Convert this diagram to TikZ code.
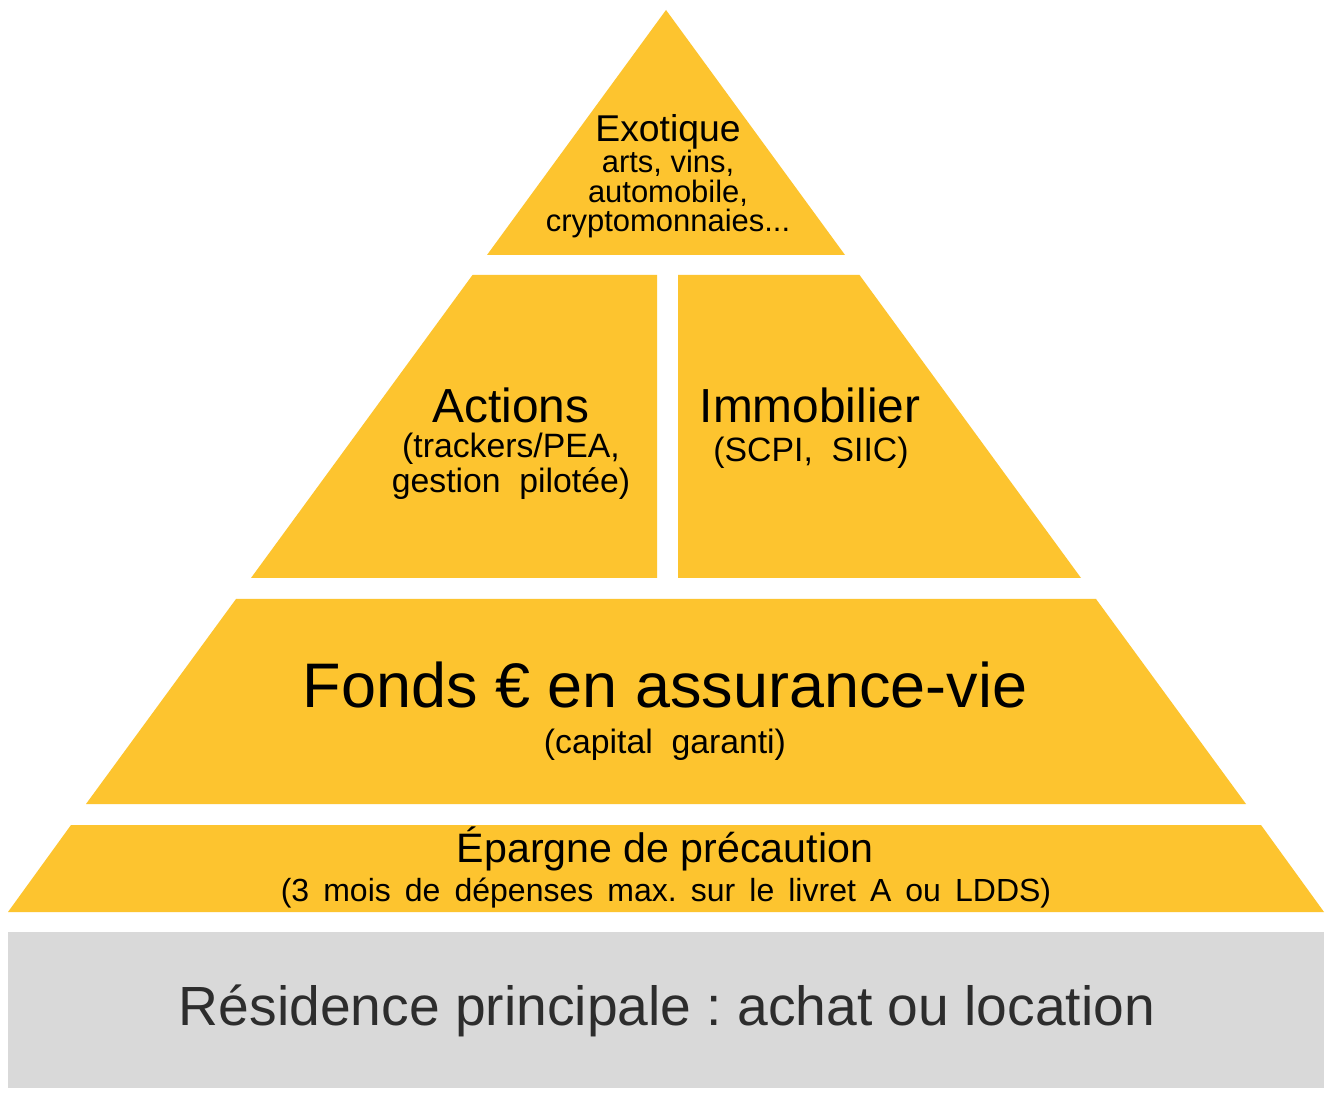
\documentclass[tikz,border=0pt]{standalone}
\usepackage{fontspec}
\setmainfont{Liberation Sans}
\definecolor{jaunePyr}{RGB}{253,196,47}
\definecolor{grisSocle}{RGB}{217,217,217}
\definecolor{texteSocle}{RGB}{45,45,45}
\newcommand{\espaceLarge}{\spaceskip=0.44em\relax}

\begin{document}
\frenchspacing
\begin{tikzpicture}[
        x=0.01cm, y=-0.01cm,
        couche/.style={
            fill=jaunePyr,
            draw=none
        },
        socle/.style={
            fill=grisSocle,
            draw=none
        },
        texte/.style={
            anchor=base,
            inner sep=0pt,
            align=center,
            text=black
        },
        titreMoyen/.style={
            texte,
            font=\fontsize{13.6}{13.6}\selectfont
        },
        detail/.style={
            texte,
            font=\fontsize{9.6}{8.8}\selectfont
        }
    ]

        \fill[white] (0,0) rectangle (1334,1098);
        \useasboundingbox (0,0) rectangle (1334,1098);

        % couches de la pyramide
        \fill[couche] (666,10) -- (845,255) -- (487,255) -- cycle;
        \fill[couche] (472.5,275) -- (657,275) -- (657,578) -- (251,578) -- cycle;
        \fill[couche] (678,275) -- (859.5,275) -- (1081,578) -- (678,578) -- cycle;
        \fill[couche] (236,599) -- (1096,599) -- (1246,804) -- (86,804) -- cycle;
        \fill[couche] (71,825) -- (1261,825) -- (1324,912) -- (8,912) -- cycle;
        \fill[socle] (8,932) rectangle (1324,1088);

        % base = ligne du bas pour les textes sur plusieurs lignes
        \node[texte, font=\fontsize{10.6}{10.6}\selectfont] (exotique) at (668,142) {Exotique};
        \node[texte, font=\fontsize{8.8}{8.5}\selectfont] (exotiqueDetail) at (668,232) {arts, vins,\\automobile,\\cryptomonnaies...};

        \node[titreMoyen] (actions) at (511,423) {Actions};
        \node[detail] (actionsDetail) at (511,493) {(trackers/PEA,\\gestion\ \ pilotée)};

        \node[titreMoyen] (immobilier) at (810,423) {Immobilier};
        \node[detail] (immobilierDetail) at (811,462) {(SCPI,\ \ SIIC)};

        \node[texte, font=\fontsize{17.9}{17.9}\selectfont] (fonds) at (665,708) {Fonds € en assurance-vie};
        \node[detail] (fondsDetail) at (665,753) {(capital\ \ garanti)};

        \node[texte, font=\fontsize{11.7}{11.7}\selectfont] (epargne) at (665,862) {Épargne de précaution};
        \node[texte, font=\fontsize{9.1}{9.1}\selectfont\espaceLarge] (epargneDetail) at (666,901) {(3 mois de dépenses max. sur le livret A ou LDDS)};

        \node[texte, text=texteSocle, font=\fontsize{15.7}{15.7}\selectfont] (residence) at (667,1025) {Résidence principale : achat ou location};

    \end{tikzpicture}
\end{document}
